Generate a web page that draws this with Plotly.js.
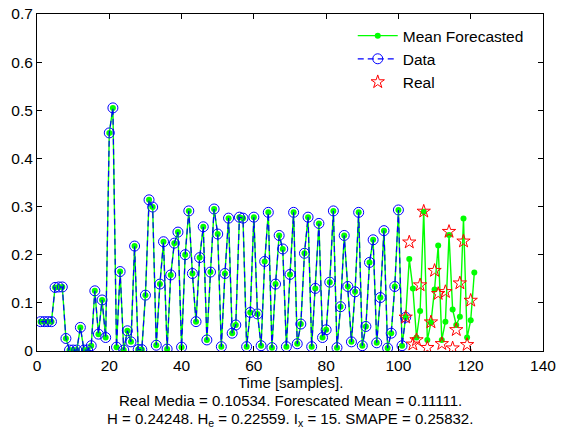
<!DOCTYPE html>
<html>
<head>
<meta charset="utf-8">
<script src="https://cdn.plot.ly/plotly-3.0.1.min.js"></script>
<style>html,body{margin:0;padding:0;background:#fff;}#chart{width:564px;height:432px;}</style>
</head>
<body>
<div id="chart"></div>
<script>
// Observed data, samples 1..102
const dataValues = [0.061,0.061,0.061,0.061,0.132,0.133,0.133,0.026,0.002,0.002,
0.002,0.049,0.002,0.002,0.011,0.125,0.035,0.106,0.028,0.453,
0.505,0.008,0.165,0.002,0.042,0.019,0.218,0.003,0.003,0.116,
0.314,0.299,0.012,0.139,0.227,0.004,0.158,0.224,0.247,0.008,
0.200,0.291,0.161,0.061,0.194,0.258,0.023,0.164,0.295,0.243,
0.009,0.161,0.276,0.037,0.054,0.278,0.276,0.009,0.080,0.278,
0.077,0.011,0.186,0.288,0.007,0.139,0.240,0.212,0.009,0.159,
0.288,0.015,0.056,0.203,0.278,0.009,0.130,0.265,0.028,0.044,
0.143,0.291,0.007,0.092,0.240,0.134,0.019,0.123,0.288,0.011,
0.051,0.184,0.231,0.017,0.111,0.250,0.006,0.037,0.134,0.293,
0.011,0.070];
// Mean forecast beyond the data, samples 103..121
const forecastValues = [0.191,0.130,0.028,0.083,0.289,0.023,0.059,0.128,0.219,0.023,
0.061,0.241,0.086,0.054,0.071,0.275,0.028,0.064,0.163];
// Real values, samples 102..120
const realStart = 102;
const realValues = [0.070,0.226,0.014,0.023,0.137,0.290,0.007,0.060,0.167,0.119,
0.015,0.123,0.248,0.006,0.044,0.141,0.228,0.013,0.105];

const xTicks = [0,20,40,60,80,100,120,140];
const yTicks = [0,0.1,0.2,0.3,0.4,0.5,0.6,0.7];
const yTickText = ['0','0.1','0.2','0.3','0.4','0.5','0.6','0.7'];
const bottomLines = [
  'Time [samples].',
  'Real Media = 0.10534. Forescated Mean = 0.11111.',
  'H = 0.24248. H<sub>e</sub> = 0.22559. I<sub>x</sub> = 15. SMAPE = 0.25832.'
];

const meanValues = dataValues.concat(forecastValues);
const meanX = meanValues.map((v,i)=>i+1);
const dataX = dataValues.map((v,i)=>i+1);
const realX = realValues.map((v,i)=>realStart+i);

const FONT = 'Liberation Sans, Arial, Helvetica, sans-serif';
const FS = 15.5;

const traces = [
  {x: meanX, y: meanValues, name: 'Mean Forecasted', type: 'scatter', mode: 'lines+markers',
   line: {color: '#00ff00', width: 1.4}, marker: {symbol: 'circle', size: 6, color: '#00ff00'}},
  {x: dataX, y: dataValues, name: 'Data', type: 'scatter', mode: 'lines+markers',
   line: {color: '#0000ff', width: 1.2, dash: '6px,4px'},
   marker: {symbol: 'circle-open', size: 10, color: '#0000ff', line: {width: 1, color: '#0000ff'}}},
  {x: realX, y: realValues, name: 'Real', type: 'scatter', mode: 'markers',
   marker: {symbol: 'star-open', size: 10, color: '#ff0000', line: {width: 1, color: '#ff0000'}}}
];

const axisCommon = {
  showgrid: false, zeroline: false, showline: true, linecolor: '#000', linewidth: 1,
  mirror: 'allticks', ticks: 'inside', ticklen: 5, tickcolor: '#000', tickwidth: 1,
  tickfont: {family: FONT, size: FS, color: '#000'}
};

const lineY = [382, 400, 419];
const plotTop = 14, plotBottom = 351;
const annotations = bottomLines.map((t, i) => ({
  text: t, xref: 'paper', yref: 'paper', x: 0.5,
  y: (plotBottom - lineY[i]) / (plotBottom - plotTop),
  xanchor: 'center', yanchor: 'middle', showarrow: false,
  font: {family: FONT, size: 15, color: '#000'}
}));

const layout = {
  width: 564, height: 432,
  margin: {l: 37, r: 21, t: plotTop, b: 432 - plotBottom},
  paper_bgcolor: '#fff', plot_bgcolor: '#fff',
  font: {family: FONT, size: FS, color: '#000'},
  showlegend: true,
  legend: {x: 0.624, y: 0.985, xanchor: 'left', yanchor: 'top', bgcolor: 'rgba(255,255,255,0)',
           borderwidth: 0, font: {family: FONT, size: 15.5, color: '#000'}, itemwidth: 40, tracegroupgap: 0},
  xaxis: Object.assign({}, axisCommon, {range: [0,140], tickvals: xTicks, ticktext: xTicks.map(String)}),
  yaxis: Object.assign({}, axisCommon, {range: [0,0.7], tickvals: yTicks, ticktext: yTickText}),
  annotations: annotations
};

Plotly.newPlot('chart', traces, layout, {staticPlot: true, displayModeBar: false});
</script>
</body>
</html>
